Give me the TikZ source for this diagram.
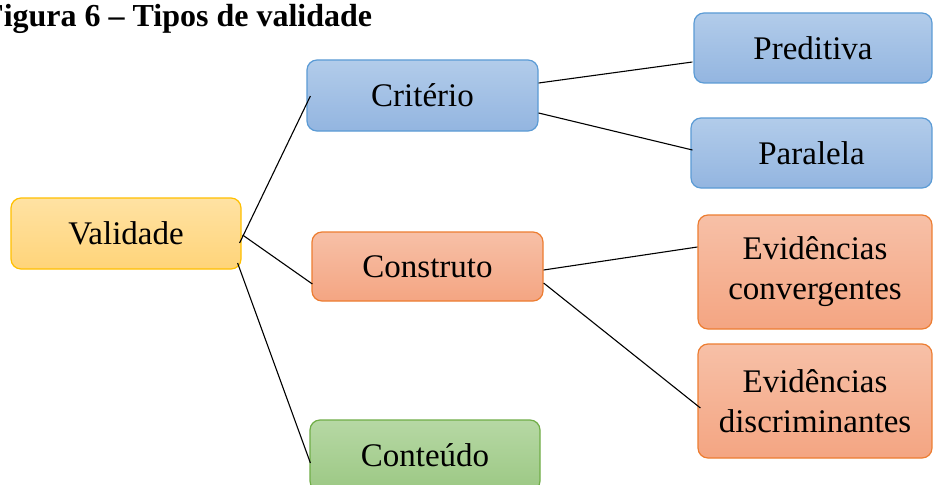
\documentclass[tikz,border=0pt]{standalone}
\usepackage{fontspec}
\setmainfont{Liberation Serif}
\usetikzlibrary{calc}
\definecolor{bluetop}{HTML}{B2CCEA}
\definecolor{bluebot}{HTML}{93B5E0}
\definecolor{blueline}{HTML}{5B9BD5}
\definecolor{orgtop}{HTML}{F7C0A7}
\definecolor{orgbot}{HTML}{F4A582}
\definecolor{orgline}{HTML}{ED7D31}
\definecolor{yeltop}{HTML}{FFE2A3}
\definecolor{yelbot}{HTML}{FFD479}
\definecolor{yelline}{HTML}{FFC000}
\definecolor{grntop}{HTML}{B6D8A4}
\definecolor{grnbot}{HTML}{9CC884}
\definecolor{grnline}{HTML}{70AD47}
\tikzset{
  box/.style={draw, rounded corners=10pt, line width=1.2pt, inner sep=0pt,
    align=center, font=\fontsize{33}{40}\selectfont},
  bluebox/.style={box, draw=blueline, top color=bluetop, bottom color=bluebot},
  orgbox/.style={box, draw=orgline, top color=orgtop, bottom color=orgbot},
  yelbox/.style={box, draw=yelline, top color=yeltop, bottom color=yelbot},
  grnbox/.style={box, draw=grnline, top color=grntop, bottom color=grnbot},
  conn/.style={draw=black, line width=1.1pt}
}
\begin{document}
\begin{tikzpicture}[x=1pt,y=-1pt]
\clip (0,0) rectangle (933,484);
\fill[white] (0,0) rectangle (933,484);
\node[anchor=base west, inner sep=0pt, font=\bfseries\fontsize{32}{36}\selectfont] (title) at (-16,27) {Figura 6 – Tipos de validade};
% level 0
\node[yelbox, minimum width=230pt, minimum height=71pt] (val) at (126,233.5) {Validade};
% level 1
\node[bluebox, minimum width=231pt, minimum height=71pt] (crit) at (422.5,95.5) {Critério};
\node[orgbox, minimum width=231pt, minimum height=69pt] (cons) at (427.5,266.5) {Construto};
\node[grnbox, minimum width=230pt, minimum height=71pt] (cont) at (425,455.5) {Conteúdo};
% level 2
\node[bluebox, minimum width=238pt, minimum height=70pt] (pred) at (813,48) {Preditiva};
\node[bluebox, minimum width=241pt, minimum height=70pt] (par) at (811.5,153) {Paralela};
\node[orgbox, minimum width=234pt, minimum height=114pt] (conv) at (815,272) {Evidências\\convergentes};
\node[orgbox, minimum width=234pt, minimum height=114pt] (disc) at (815,401) {Evidências\\discriminantes};
% connectors
\draw[conn] ($(val.east)+(-2,9.5)$) -- ($(crit.west)+(4,0.5)$);
\draw[conn] ($(val.east)+(1,1.5)$) -- ($(cons.west)+(1,17.5)$);
\draw[conn] ($(val.east)+(-4,29.5)$) -- ($(cont.west)+(1,7.5)$);
\draw[conn] ($(crit.east)+(0,-12.5)$) -- ($(pred.west)+(-1,14)$);
\draw[conn] ($(crit.east)+(0,17.5)$) -- ($(par.west)+(2,-3)$);
\draw[conn] ($(cons.east)+(0,3.5)$) -- ($(conv.west)+(0,-25)$);
\draw[conn] ($(cons.east)+(0,16.5)$) -- ($(disc.west)+(3,7)$);
\end{tikzpicture}
\end{document}
